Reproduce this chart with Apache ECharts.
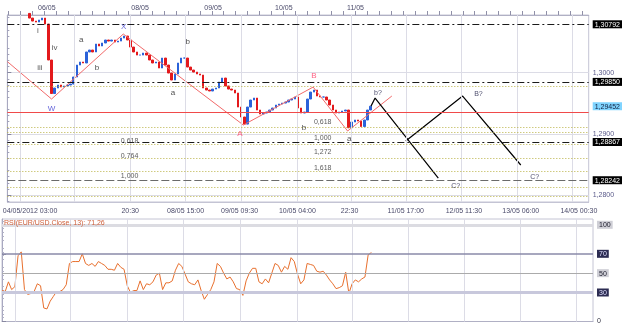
<!DOCTYPE html>
<html>
<head>
<meta charset="utf-8">
<script src="https://cdn.jsdelivr.net/npm/echarts@6/dist/echarts.min.js"></script>
<style>
  html, body { margin: 0; padding: 0; background: #fff; }
  #chart { width: 625px; height: 325px; }
</style>
</head>
<body>
<div id="chart"></div>
<script>
// EUR/USD hourly closes, x = hours since left edge of the chart
const closes = [
  1.3118, 1.3112, 1.3121, 1.3115, 1.3119, 1.3108, 1.3097,
  1.30894, 1.30845, 1.30829, 1.30862, 1.30894, 1.30796, 1.30208, 1.29660,
  1.29750, 1.29799, 1.29766, 1.29783, 1.29799, 1.29815, 1.29930, 1.30126, 1.30175, 1.30159,
  1.30339, 1.30371, 1.30339, 1.30469, 1.30437, 1.30486, 1.30535, 1.30518, 1.30535, 1.30502,
  1.30518, 1.30567, 1.30600, 1.30535, 1.30420, 1.30339, 1.30289, 1.30289, 1.30322, 1.30289,
  1.30208, 1.30159, 1.30175, 1.30077, 1.30240, 1.30126, 1.29995, 1.29881, 1.29979, 1.30159,
  1.30240, 1.30240, 1.30093, 1.30044, 1.30011, 1.29979, 1.29962, 1.29750, 1.29717, 1.29701,
  1.29733, 1.29750, 1.29848, 1.29913, 1.29783, 1.29733, 1.29717, 1.29668, 1.29439, 1.29276,
  1.29160, 1.29439, 1.29554, 1.29586, 1.29390, 1.29325, 1.29341, 1.29357, 1.29390, 1.29423,
  1.29472, 1.29488, 1.29504, 1.29521, 1.29554, 1.29570, 1.29603, 1.29423, 1.29341, 1.29357,
  1.29570, 1.29684, 1.29717, 1.29619, 1.29603, 1.29603, 1.29554, 1.29472, 1.29390, 1.29341,
  1.29357, 1.29374, 1.29390, 1.29100, 1.29194, 1.29227, 1.29210, 1.29120, 1.29227, 1.29390,
  1.29452
]

// RSI(13) on the same hours
const rsi = [
  32, 31, 41, 33, 36, 68, 72, 33, 28, 29,
  31, 39, 37, 14, 13, 21, 26, 31, 31, 33,
  38, 60, 62, 62, 62, 70, 60, 58, 60, 57,
  62, 60, 58, 54, 54, 53, 60, 56, 54, 37,
  30, 32, 32, 42, 33, 39, 38, 41, 48, 50,
  33, 40, 40, 42, 53, 60, 57, 49, 41, 39,
  38, 43, 32, 23, 28, 33, 41, 60, 57, 50,
  44, 46, 41, 34, 33, 27, 42, 50, 55, 55,
  41, 39, 44, 40, 50, 60, 58, 51, 57, 54,
  66, 62, 49, 39, 43, 60, 59, 58, 52, 51,
  52, 48, 43, 39, 34, 35, 37, 51, 29, 39,
  43, 41, 44, 46, 69, 71.26
]

// horizontal levels
const dashLevels = [1.30792, 1.29850, 1.28867, 1.28242]
const dotLevels = [1.29782, 1.29112, 1.29030, 1.28834, 1.28600, 1.28397, 1.28126, 1.27972]
const redLevel = 1.29346
const lastPrice = 1.29452
const priceTicks = [1.28, 1.29, 1.30]

// time axes (x in hours)
const gridHours = [4.05, 21.2, 38.9, 56.4, 74.1, 91.8, 109.0, 126.4, 143.8, 161.3, 178.7]
const bottomLabelHours = [7.2, 38.9, 56.4, 73.5, 91.8, 108.3, 126.1, 144.5, 162.5, 180.9]
const bottomLabels = ['04/05/2012 03:00', '20:30', '08/05 15:00', '09/05 09:30', '10/05 04:00',
  '22:30', '11/05 17:00', '12/05 11:30', '13/05 06:00', '14/05 00:30']
const dayHours = [19.3, 42.0, 65.1, 87.5, 110.2, 132.6, 155.7, 178.4]
const topLabelHours = [12.5, 42.0, 65.1, 87.5, 110.2]
const topLabels = ['06/05', '08/05', '09/05', '10/05', '11/05']

// wave counts
const redWave = [[0, 1.30182], [14.0, 1.29570], [36.7, 1.30633], [74.7, 1.29145],
  [96.8, 1.29766], [107.7, 1.29047], [121.7, 1.29619]]
const projOne = [[115.1, 1.29454], [116.4, 1.29586], [136.4, 1.28278]]
const projTwo = [[126.1, 1.28883], [144.1, 1.29619], [162.5, 1.28491]]

const romanLabels = [['i', 9.7, 1.30682], ['iv', 15.0, 1.30404], ['iii', 10.3, 1.30077]]
const wxLabels = [['W', 14.0, 1.29405], ['X', 36.8, 1.30747]]
const abLabels = [['A', 73.6, 1.28998], ['B', 97.0, 1.29946]]
const subLabels = [['a', 23.4, 1.30535], ['b', 28.4, 1.30077], ['b', 57.1, 1.30502],
  ['a', 52.4, 1.29668], ['b', 93.9, 1.29096], ['a', 108.2, 1.28916]]
const projLabels = [['b?', 117.3, 1.29668], ['B?', 149.1, 1.29652], ['C?', 141.9, 1.28148], ['C?', 166.9, 1.28295]]
const fibLabels = [['0,618', 38.7, 1.28888], ['0,764', 38.7, 1.28638], ['1,000', 38.7, 1.28311],
  ['0,618', 99.8, 1.29194], ['1,000', 99.8, 1.28932], ['1,272', 99.8, 1.28703], ['1,618', 99.8, 1.28442]]

const rsiTicks = [0, 30, 50, 70, 100]

const FONT = 'Liberation Sans'
const X_MAX = 184
const GRID_COLOR = '#dcdce6'

const candles = closes.map((c, i) => {
  const o = i === 0 ? c : closes[i - 1]
  return [i, o, c, Math.min(o, c), Math.max(o, c)]
})

const near = (a, b) => Math.abs(a - b) < 1e-7
const lookup = (vals, labels) => (v) => {
  const i = vals.findIndex((t) => near(t, v))
  return i < 0 ? '' : labels[i]
}

// top axis minor ticks: six per day
const topTicks = []
for (let d = dayHours[0] - 22.7; d < X_MAX; d += 22.7) {
  for (let k = 0; k < 6; k++) {
    const t = d + (k * 22.7) / 6
    if (t > 0 && t < X_MAX) topTicks.push(+t.toFixed(2))
  }
}

function priceLabel(v) {
  const txt = v.toFixed(priceTicks.some((t) => near(t, v)) ? 4 : 5).replace('.', ',')
  if (dashLevels.some((t) => near(t, v))) return `{k|${txt}}`
  if (near(v, lastPrice)) return `{c|${txt}}`
  if (near(v, redLevel)) return `{r|${txt}}`
  return `{n|${txt}}`
}

function rsiLabel(v) {
  if (v === 100) return `{g|100}`
  if (v === 70 || v === 30) return `{d|${v}}`
  if (v === 50) return `{g|50}`
  return `{n|${v}}`
}

const textSeries = (rows, color, size) => ({
  type: 'scatter',
  xAxisIndex: 0,
  yAxisIndex: 0,
  symbolSize: 0,
  silent: true,
  z: 5,
  data: rows.map((r) => [r[1], r[2], r[0]]),
  label: {
    show: true,
    position: 'inside',
    formatter: (p) => p.value[2],
    color,
    fontSize: size,
    fontFamily: FONT,
  },
})

// markLine rounds to 2 decimals by default, prices need 5
const levelSeries = (lineStyle, data, xi = 0, yi = 0) => ({
  type: 'line', xAxisIndex: xi, yAxisIndex: yi, data: [], silent: true, z: 1,
  markLine: { silent: true, symbol: 'none', precision: 6, label: { show: false }, lineStyle, data },
})

const chart = echarts.init(document.getElementById('chart'))
chart.setOption({
  animation: false,
  backgroundColor: '#fff',
  textStyle: { fontFamily: FONT },
  title: {
    text: 'RSI(EUR/USD.Close, 13): 71,26',
    left: 4,
    top: 220,
    padding: 0,
    textStyle: { fontSize: 7, color: '#d0603a', fontWeight: 'normal', fontFamily: FONT },
  },
  grid: [
    { left: 2, right: 32, top: 15, height: 187, show: true, borderColor: '#c4c4d4', borderWidth: 1 },
    { left: 2, right: 32, top: 219, height: 103, show: true, borderColor: '#c4c4d4', borderWidth: 1 },
  ],
  xAxis: [
    {
      type: 'value', gridIndex: 0, min: 0, max: X_MAX, position: 'bottom',
      axisLine: { lineStyle: { color: '#c4c4d4' } },
      axisTick: { show: false },
      splitLine: { show: false },
      axisLabel: {
        customValues: bottomLabelHours, formatter: lookup(bottomLabelHours, bottomLabels),
        fontSize: 7, color: '#4a4a6a', margin: 6,
      },
    },
    {
      type: 'value', gridIndex: 0, min: 0, max: X_MAX, position: 'top',
      axisLine: { lineStyle: { color: '#b0b0c4' } },
      axisTick: { show: true, customValues: topTicks, length: 4, lineStyle: { color: '#9090a8' } },
      splitLine: { show: false },
      axisLabel: {
        customValues: topLabelHours, formatter: lookup(topLabelHours, topLabels),
        fontSize: 7, color: '#4a4a6a', margin: 3,
      },
    },
    {
      type: 'value', gridIndex: 1, min: 0, max: X_MAX,
      axisLine: { lineStyle: { color: '#b0b0c4' } },
      axisTick: { show: false },
      splitLine: { show: false },
      axisLabel: { show: false },
    },
  ],
  yAxis: [
    {
      type: 'value', gridIndex: 0, position: 'right', min: 1.27886, max: 1.30944,
      axisLine: { show: true, lineStyle: { color: '#a8a8c0' } },
      axisTick: { show: true, customValues: priceTicks, length: 4, lineStyle: { color: '#8888a0' } },
      minorTick: { show: true, splitNumber: 5, length: 2, lineStyle: { color: '#a0a0b8' } },
      splitLine: { show: true, lineStyle: { color: GRID_COLOR } },
      axisLabel: {
        customValues: [...priceTicks, ...dashLevels, lastPrice, redLevel],
        formatter: priceLabel,
        margin: 4,
        rich: {
          n: { fontSize: 7, color: '#5a5a8a', fontFamily: FONT },
          k: { fontSize: 7, color: '#fff', backgroundColor: '#000', padding: [1, 2, 0, 2], fontFamily: FONT },
          c: { fontSize: 7, color: '#102040', backgroundColor: '#80d4ff', padding: [1, 2, 0, 2], fontFamily: FONT },
          r: { fontSize: 7, color: '#300000', backgroundColor: '#ff2a2a', padding: [1, 2, 0, 2], fontFamily: FONT },
        },
      },
    },
    {
      type: 'value', gridIndex: 1, position: 'right', min: 0, max: 106,
      axisLine: { show: true, lineStyle: { color: '#a8a8c0' } },
      axisTick: { show: true, customValues: rsiTicks, length: 4, lineStyle: { color: '#8888a0' } },
      minorTick: { show: true, splitNumber: 5, length: 2, lineStyle: { color: '#b0b0c4' } },
      splitLine: { show: false },
      axisLabel: {
        customValues: rsiTicks,
        formatter: rsiLabel,
        margin: 4,
        rich: {
          n: { fontSize: 7, color: '#303040', fontFamily: FONT },
          g: { fontSize: 7, color: '#202030', backgroundColor: '#cfcfd6', padding: [1, 2, 0, 2], fontFamily: FONT },
          d: { fontSize: 7, color: '#e0e0ff', backgroundColor: '#2c2c52', padding: [1, 2, 0, 2], fontFamily: FONT },
        },
      },
    },
  ],
  series: [
    // vertical time grid in both panes
    levelSeries({ color: GRID_COLOR, type: 'solid', width: 1 }, gridHours.map((h) => ({ xAxis: h }))),
    levelSeries({ color: GRID_COLOR, type: 'solid', width: 1 }, gridHours.map((h) => ({ xAxis: h })), 2, 1),
    levelSeries({ color: '#b8b040', type: [1, 2], width: 1 }, dotLevels.map((p) => ({ yAxis: p }))),
    levelSeries({ color: '#1a1a1a', type: [7, 3, 2, 3], width: 1 }, dashLevels.map((p, i) => (i === 3
      ? { yAxis: p, lineStyle: { color: '#6a6a6a', type: [8, 3] } }
      : { yAxis: p }))),
    levelSeries({ color: '#f04a4a', type: 'solid', width: 1 }, [{ yAxis: redLevel }]),
    {
      type: 'candlestick', xAxisIndex: 0, yAxisIndex: 0,
      data: candles, barWidth: 2, clip: true, z: 3,
      itemStyle: {
        color: '#2b62d9', color0: '#e3191c',
        borderColor: '#2b62d9', borderColor0: '#e3191c', borderWidth: 1,
      },
    },
    {
      type: 'line', xAxisIndex: 0, yAxisIndex: 0, data: redWave, showSymbol: false, silent: true, z: 4,
      lineStyle: { color: '#f26a6a', width: 1 },
    },
    {
      type: 'line', xAxisIndex: 0, yAxisIndex: 0, data: projOne, showSymbol: false, silent: true, z: 4,
      lineStyle: { color: '#000', width: 1.2 },
    },
    {
      type: 'line', xAxisIndex: 0, yAxisIndex: 0, data: projTwo, showSymbol: false, silent: true, z: 4,
      lineStyle: { color: '#000', width: 1.2 },
    },
    textSeries(romanLabels, '#303030', 8),
    textSeries(wxLabels, '#3a3ad0', 8),
    textSeries(abLabels, '#ff3a64', 8),
    textSeries(subLabels, '#202020', 8),
    textSeries(projLabels, '#22224a', 7),
    textSeries(fibLabels, '#303030', 7),
    {
      type: 'line', xAxisIndex: 2, yAxisIndex: 1, data: [], silent: true,
      markLine: {
        silent: true, symbol: 'none', label: { show: false },
        data: [
          { yAxis: 100, lineStyle: { color: '#dcdce2', width: 3, type: 'solid' } },
          { yAxis: 70, lineStyle: { color: '#8a8aa8', width: 1.5, type: 'solid' } },
          { yAxis: 50, lineStyle: { color: '#ababab', width: 1, type: 'solid' } },
          { yAxis: 30, lineStyle: { color: '#c8c8dc', width: 3, type: 'solid' } },
        ],
      },
    },
    {
      type: 'line', xAxisIndex: 2, yAxisIndex: 1, showSymbol: false, silent: true, z: 4,
      data: rsi.map((v, i) => [i, v]),
      lineStyle: { color: '#e8702e', width: 1 },
    },
  ],
})
</script>
</body>
</html>
